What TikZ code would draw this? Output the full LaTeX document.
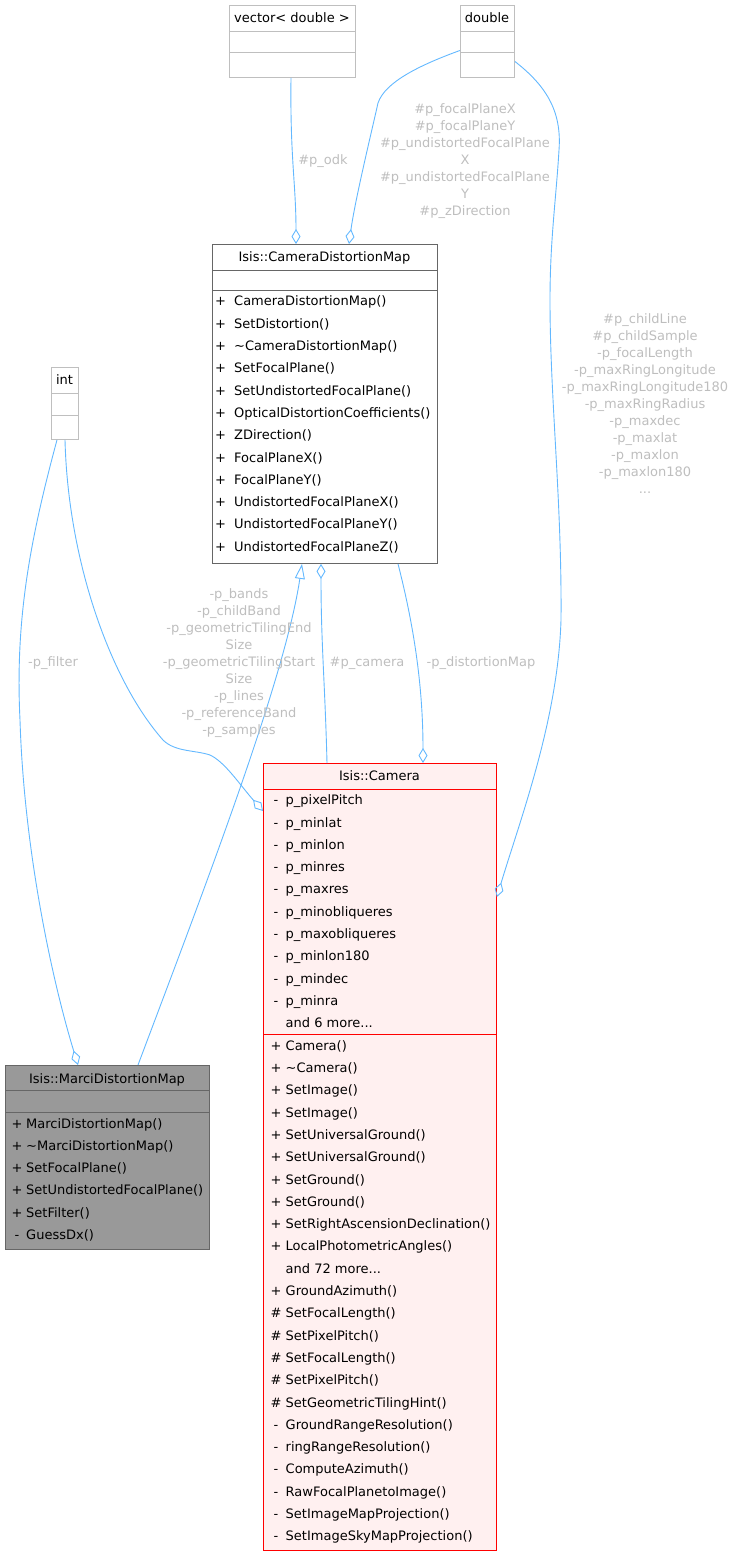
\documentclass[tikz,border=0pt]{standalone}
\usepackage{fontspec}
\setmainfont{DejaVu Sans}
\usetikzlibrary{arrows.meta,calc}
\definecolor{edgeblue}{HTML}{63B8FF}
\definecolor{labelgrey}{HTML}{BEBEBE}
\definecolor{boxgrey}{HTML}{BFBFBF}
\definecolor{darkgrey}{HTML}{666666}
\definecolor{campink}{HTML}{FFF0F0}
\definecolor{marcifill}{HTML}{999999}

\tikzset{
  classbox/.style={draw, anchor=north west, inner sep=0pt, line width=0.9pt},
  classtitle/.style={anchor=base, inner sep=0pt},
  member/.style={anchor=base west, inner sep=0pt},
  membersym/.style={anchor=base, inner sep=0pt},
  edgelabel/.style={text=labelgrey, align=center, inner sep=0pt},
  link/.style={draw=edgeblue, line width=0.9pt},
  hasa/.style={link, -{Diamond[open, length=15pt, width=9pt]}},
  isa/.style={link, -{Triangle[open, length=15pt, width=10pt]}},
}

\begin{document}
\begin{tikzpicture}[x=1pt,y=-1pt,font=\fontsize{13}{17}\selectfont]
\useasboundingbox (0,0) rectangle (734,1556);

% member types
\node[classbox, draw=boxgrey, minimum width=126pt, minimum height=72pt] (vec) at (229,5) {};
\node[classtitle] (vecT) at (292,22.7) {vector< double >};
\draw[boxgrey, line width=0.9pt] (229,31) -- (355,31) (229,52) -- (355,52);

\node[classbox, draw=boxgrey, minimum width=54pt, minimum height=72pt] (dbl) at (460,5) {};
\node[classtitle] (dblT) at (487,22.7) {double};
\draw[boxgrey, line width=0.9pt] (460,31) -- (514,31) (460,52) -- (514,52);

\node[classbox, draw=boxgrey, minimum width=27pt, minimum height=72pt] (int) at (51,367) {};
\node[classtitle] (intT) at (64.5,384.7) {int};
\draw[boxgrey, line width=0.9pt] (51,393) -- (78,393) (51,415) -- (78,415);

% Isis::CameraDistortionMap
\node[classbox, draw=darkgrey, fill=white, minimum width=225pt, minimum height=319pt] (cdm) at (212,244) {};
\node[classtitle] (cdmT) at (324.5,261.7) {Isis::CameraDistortionMap};
\draw[darkgrey, line width=0.9pt] (212,270) -- (437,270) (212,290) -- (437,290);
\foreach \s/\m [count=\i from 0] in {+/CameraDistortionMap(), +/SetDistortion(),
  +/\textasciitilde CameraDistortionMap(), +/SetFocalPlane(), +/SetUndistortedFocalPlane(),
  +/OpticalDistortionCoefficients(), +/ZDirection(), +/FocalPlaneX(), +/FocalPlaneY(),
  +/UndistortedFocalPlaneX(), +/UndistortedFocalPlaneY(), +/UndistortedFocalPlaneZ()}
{
  \node[membersym] (cdmS\i) at (220.5,305.9+22.3*\i) {\s};
  \node[member] (cdmM\i) at (234,305.9+22.3*\i) {\m};
}

% Isis::Camera
\node[classbox, draw=red, fill=campink, minimum width=233pt, minimum height=787pt] (cam) at (263,763) {};
\node[classtitle] (camT) at (379.5,780.7) {Isis::Camera};
\draw[red, line width=0.9pt] (263,789) -- (496,789) (263,1034) -- (496,1034);
\foreach \s/\m [count=\i from 0] in {-/p\_pixelPitch, -/p\_minlat, -/p\_minlon,
  -/p\_minres, -/p\_maxres, -/p\_minobliqueres, -/p\_maxobliqueres, -/p\_minlon180,
  -/p\_mindec, -/p\_minra, {}/{and 6 more...}}
{
  \node[membersym] (camAS\i) at (276,804.7+22.3*\i) {\s};
  \node[member] (camA\i) at (285.5,804.7+22.3*\i) {\m};
}
\foreach \s/\m [count=\i from 0] in {+/Camera(), +/\textasciitilde Camera(), +/SetImage(),
  +/SetImage(), +/SetUniversalGround(), +/SetUniversalGround(), +/SetGround(),
  +/SetGround(), +/SetRightAscensionDeclination(), +/LocalPhotometricAngles(),
  {}/{and 72 more...}, +/GroundAzimuth(), {\#}/SetFocalLength(), {\#}/SetPixelPitch(),
  {\#}/SetFocalLength(), {\#}/SetPixelPitch(), {\#}/SetGeometricTilingHint(),
  -/GroundRangeResolution(), -/ringRangeResolution(), -/ComputeAzimuth(),
  -/RawFocalPlanetoImage(), -/SetImageMapProjection(), -/SetImageSkyMapProjection()}
{
  \node[membersym] (camMS\i) at (276,1050.2+22.3*\i) {\s};
  \node[member] (camM\i) at (285.5,1050.2+22.3*\i) {\m};
}

% Isis::MarciDistortionMap
\node[classbox, draw=darkgrey, fill=marcifill, minimum width=204pt, minimum height=184pt] (marci) at (5,1065) {};
\node[classtitle] (marciT) at (107,1083) {Isis::MarciDistortionMap};
\draw[darkgrey, line width=0.9pt] (5,1090) -- (209,1090) (5,1112) -- (209,1112);
\foreach \s/\m [count=\i from 0] in {+/MarciDistortionMap(), +/\textasciitilde MarciDistortionMap(),
  +/SetFocalPlane(), +/SetUndistortedFocalPlane(), +/SetFilter(), -/GuessDx()}
{
  \node[membersym] (marciS\i) at (17,1128+22.3*\i) {\s};
  \node[member] (marciM\i) at (26,1128+22.3*\i) {\m};
}

% connectors
\draw[hasa] ([xshift=62pt]vec.south west) .. controls +(-1,80) and +(0,-60) .. ([xshift=84pt]cdm.north west);
\draw[hasa] ([yshift=-9pt]dbl.west) .. controls (420,65) and (385,82) .. (378,103)
  .. controls (372,130) and (355,200) .. ([xshift=137pt]cdm.north west);
\draw[hasa] ([yshift=-20pt]dbl.east) .. controls (545,85) and (562,110) .. (559,150)
  .. controls (556,200) and (550,240) .. (550,300)
  .. controls (550,400) and (562,500) .. (561,620)
  .. controls (558,720) and (520,820) .. ([yshift=-134pt]cam.north east);
\draw[hasa] ([xshift=14pt]int.south west) .. controls (68,560) and (110,680) .. (163,740)
  .. controls (175,752) and (195,750) .. (210,755)
  .. controls (225,762) and (240,785) .. ([yshift=-48pt]cam.north west);
\draw[hasa] ([xshift=6pt]int.south west) .. controls (30,540) and (15,620) .. (20,720)
  .. controls (24,850) and (52,980) .. ([xshift=73pt]marci.north west);
\draw[isa] ([xshift=133pt]marci.north west) .. controls (200,900) and (285,680) .. ([xshift=90pt]cdm.south west);
\draw[hasa] ([xshift=64pt]cam.north west) .. controls +(-2,-80) and +(0,80) .. ([xshift=109pt]cdm.south west);
\draw[hasa] ([xshift=186pt]cdm.south west) .. controls (415,630) and (423,690) .. ([xshift=160pt]cam.north west);

% edge labels
\node[edgelabel] (lblOdk) at (323,161) {\#p\_odk};
\node[edgelabel] (lblFocal) at (465,161) {\#p\_focalPlaneX\\\#p\_focalPlaneY\\\#p\_undistortedFocalPlane\\X\\\#p\_undistortedFocalPlane\\Y\\\#p\_zDirection};
\node[edgelabel] (lblChild) at (645,404) {\#p\_childLine\\\#p\_childSample\\-p\_focalLength\\-p\_maxRingLongitude\\-p\_maxRingLongitude180\\-p\_maxRingRadius\\-p\_maxdec\\-p\_maxlat\\-p\_maxlon\\-p\_maxlon180\\...};
\node[edgelabel] (lblFilter) at (53,663) {-p\_filter};
\node[edgelabel] (lblBands) at (239,663) {-p\_bands\\-p\_childBand\\-p\_geometricTilingEnd\\Size\\-p\_geometricTilingStart\\Size\\-p\_lines\\-p\_referenceBand\\-p\_samples};
\node[edgelabel] (lblCamera) at (367,663) {\#p\_camera};
\node[edgelabel] (lblDist) at (481,663) {-p\_distortionMap};
\end{tikzpicture}
\end{document}
